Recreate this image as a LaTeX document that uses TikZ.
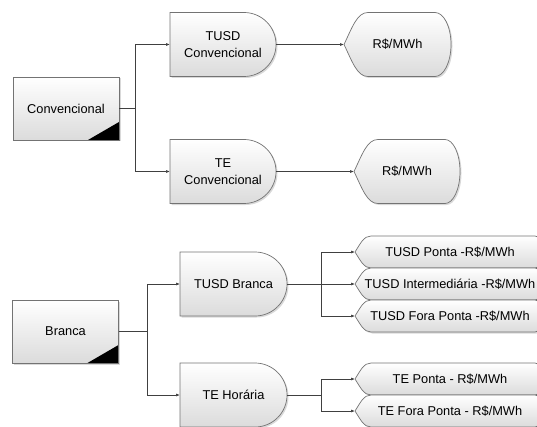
\documentclass[tikz,border=0pt]{standalone}
\usepackage{fontspec}
\setmainfont{Liberation Sans}
\usetikzlibrary{arrows.meta, positioning, shadows, backgrounds}

% shape outlines drawn behind the named nodes
\newcommand{\delayshape}[1]{%
  \path[shapebox] (#1.north west) -- ([xshift=-32pt]#1.north east)
    arc[start angle=90, end angle=-90, radius=32pt] -- (#1.south west) -- cycle;}
\newcommand{\displayshape}[4]{% node, tip inset, bulge, half height
  \path[shapebox] (#1.west) .. controls +(0.35*#2,0.55*#4) and +(-0.45*#2,0) .. ([xshift=#2]#1.north west)
    -- ([xshift=-#3]#1.north east) arc[start angle=90, end angle=-90, x radius=#3, y radius=#4]
    -- ([xshift=#2]#1.south west) .. controls +(-0.45*#2,0) and +(0.35*#2,-0.55*#4) .. (#1.west) -- cycle;}

\begin{document}
\begin{tikzpicture}[
  x=1pt, y=1pt,
  font=\fontsize{12.8}{17}\selectfont,
  shapebox/.style={draw=black!55, line width=0.7pt, top color=white, bottom color=black!14,
    drop shadow={shadow xshift=1.5pt, shadow yshift=-1.5pt, opacity=0.3}},
  grupo/.style={shapebox, inner sep=0pt, minimum width=106pt, minimum height=63pt,
    path picture={\fill (path picture bounding box.south east) -- ++(-31,0) -- ++(31,18) -- cycle;}},
  tarifa/.style={inner sep=0pt, outer sep=0pt, align=center, minimum width=106pt, minimum height=64pt},
  valor/.style={inner sep=0pt, outer sep=0pt, minimum width=107pt, minimum height=64pt},
  posto/.style={inner sep=0pt, outer sep=0pt, minimum width=190pt, minimum height=32pt},
  arrow/.style={-{Latex[length=4pt, width=3pt]}, draw=black!75, line width=0.7pt},
]
\useasboundingbox (0,0) rectangle (537,426);

% Nodes
\node[grupo]  (conv)      at (66,317.5) {Convencional};
\node[tarifa] (tusdconv)  at (223,381.5) {TUSD\\Convencional};
\node[tarifa] (teconv)    [below=63pt of tusdconv] {TE\\Convencional};
\node[valor]  (rtusdconv) [right=68pt of tusdconv] {R\$/MWh};
\node[valor, minimum width=106pt] (rteconv) [right=78pt of teconv] {R\$/MWh};

\node[grupo]  (branca)    at (65.5,94.5) {Branca};
\node[tarifa, minimum width=107pt] (tusdbr) at (233.5,142) {TUSD Branca};
\node[tarifa, minimum width=107pt] (tehor)  [below=47pt of tusdbr] {TE Hor\'aria};
\node[posto]  (tusdint)   [right=68pt of tusdbr] {TUSD Intermedi\'aria -R\$/MWh};
\node[posto]  (tusdponta) [above=0pt of tusdint] {TUSD Ponta -R\$/MWh};
\node[posto]  (tusdfora)  [below=0pt of tusdint] {TUSD Fora Ponta -R\$/MWh};
\node[posto]  (teponta)   [right=68pt of tehor, yshift=16pt] {TE Ponta - R\$/MWh};
\node[posto]  (tefora)    [below=0pt of teponta] {TE Fora Ponta - R\$/MWh};

\begin{scope}[on background layer]
  \foreach \n in {tusdconv, teconv, tusdbr, tehor} {\delayshape{\n}}
  \displayshape{rtusdconv}{24}{16}{32}
  \displayshape{rteconv}{24}{15}{32}
  \foreach \n in {tusdponta, tusdint, tusdfora, teponta, tefora} {\displayshape{\n}{16}{10}{16}}
\end{scope}

% Arrows
\draw[arrow] (conv.east) -- ++(16,0) |- (tusdconv.west);
\draw[arrow] (conv.east) -- ++(16,0) |- (teconv.west);
\draw[arrow] (tusdconv.east) -- (rtusdconv.west);
\draw[arrow] (teconv.east) -- (rteconv.west);
\draw[arrow] (branca.east) -- ++(28,0) |- (tusdbr.west);
\draw[arrow] (branca.east) -- ++(28,0) |- (tehor.west);
\draw[arrow] (tusdbr.east) -- ++(34,0) |- (tusdponta.west);
\draw[arrow] (tusdbr.east) -- (tusdint.west);
\draw[arrow] (tusdbr.east) -- ++(34,0) |- (tusdfora.west);
\draw[arrow] (tehor.east) -- ++(34,0) |- (teponta.west);
\draw[arrow] (tehor.east) -- ++(34,0) |- (tefora.west);

\end{tikzpicture}
\end{document}
